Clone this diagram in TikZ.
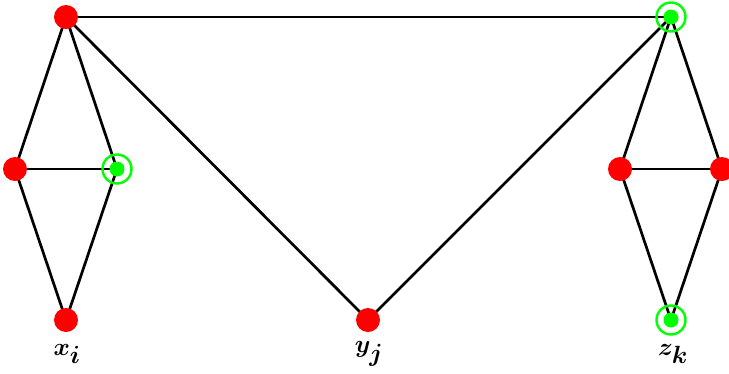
\documentclass[tikz,border=0pt]{standalone}
\usepackage{amsmath,amssymb,bm}
\usepackage{xcolor}
\usepackage{tikz}
\usetikzlibrary{positioning,backgrounds}
\definecolor{dotred}{HTML}{FF0000}
\definecolor{dotgreen}{HTML}{00FF00}
\tikzset{
  reddot/.style={circle,fill=dotred,inner sep=0pt,minimum size=24pt},
  greendot/.style={circle,draw=dotgreen,line width=2.4pt,inner sep=0pt,minimum size=29pt,
    path picture={\fill[dotgreen] (path picture bounding box.center) circle (7.5pt);}},
  edge/.style={black,line width=2.7pt},
  vlabel/.style={font=\fontsize{34}{36}\selectfont}
}
\begin{document}
\begin{tikzpicture}[x=1pt,y=-1pt]
  \useasboundingbox (0,0) rectangle (729,373);
  % left gadget
  \node[reddot] (x1) at (66,17) {};
  \node[reddot] (x2) at (15,169) {};
  \node[greendot] (x3) at (117,169) {};
  \node[reddot] (x4) at (66,320) {};
  % middle
  \node[reddot] (y1) at (368,320) {};
  % right gadget
  \node[greendot] (z1) at (671,17) {};
  \node[reddot] (z2) at (620,169) {};
  \node[reddot] (z3) at (722,169) {};
  \node[greendot] (z4) at (671,320) {};
  % edges, behind the dots
  \begin{scope}[on background layer]
    \draw[edge] (x1.center) -- (z1.center);
    \draw[edge] (x1.center) -- (x2.center) -- (x4.center) -- (x3.center) -- (x1.center);
    \draw[edge] (x2.center) -- (x3.center);
    \draw[edge] (x1.center) -- (y1.center) -- (z1.center);
    \draw[edge] (z1.center) -- (z2.center) -- (z4.center) -- (z3.center) -- (z1.center);
    \draw[edge] (z2.center) -- (z3.center);
  \end{scope}
  % labels
  \node[vlabel] (lx) at (67,354) {$\boldsymbol{x_i}$};
  \node[vlabel] (ly) at (369,354) {$\boldsymbol{y_j}$};
  \node[vlabel] (lz) at (673,354) {$\boldsymbol{z_k}$};
\end{tikzpicture}
\end{document}
